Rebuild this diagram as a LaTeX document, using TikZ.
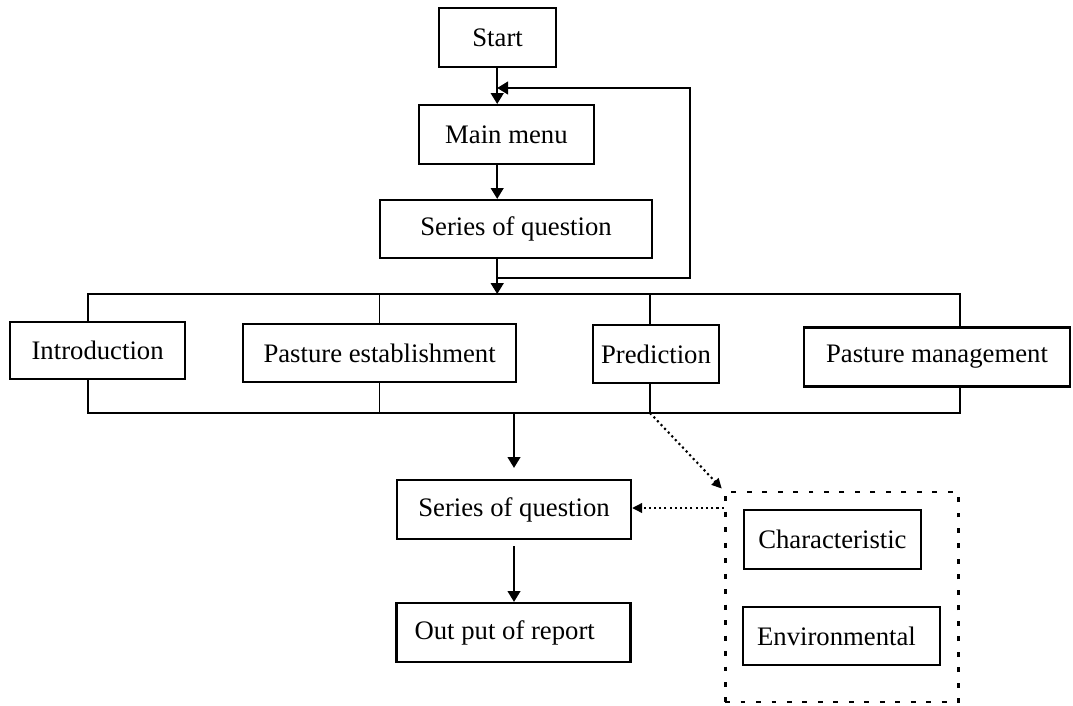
\documentclass[tikz,border=0pt]{standalone}
\usepackage{fontspec}
\setmainfont{Liberation Serif}
\usetikzlibrary{arrows.meta, positioning, calc}

\begin{document}
\begin{tikzpicture}[
                box/.style={draw, rectangle, line width=1.6pt, minimum height=1.45cm, text centered, font=\fontsize{19}{22}\selectfont},
                padbox/.style={box, align=flush left, inner xsep=#1},
                group/.style={draw, rectangle, dash pattern=on 3.5pt off 7.5pt, line width=2pt},
                arrow/.style={-{Triangle[length=0.27cm,width=0.32cm]}, line width=1.1pt},
                dotarrow/.style={-{Triangle[length=0.25cm,width=0.24cm]}, dash pattern=on 1.5pt off 2.2pt, line width=1.5pt},
                link/.style={line width=1.1pt}
            ]
            \useasboundingbox (0,0) rectangle (26.825,17.625);

            % Main flow
            \node[box, minimum width=2.925cm, minimum height=1.475cm] (start) at (12.44,16.69) {Start};
            \node[box, minimum width=4.375cm, minimum height=1.475cm] (menu) at (12.66,14.26) {Main menu};
            \node[box, minimum width=6.8cm] (ser1) at (12.9,11.9) {Series of question};

            % Modules
            \begin{scope}
                \node[box, minimum width=4.375cm, minimum height=1.425cm] (intro) at (2.44,8.86) {Introduction};
                \node[box, minimum width=6.825cm] (estab) at (9.49,8.8) {Pasture establishment};
                \node[box, minimum width=3.15cm] (pred) at (16.4,8.775) {Prediction};
                \node[box, minimum width=6.65cm, minimum height=1.475cm] (mgmt) at (23.425,8.7) {Pasture management};
            \end{scope}

            % Output
            \node[box, minimum width=5.85cm, minimum height=1.475cm] (ser2) at (12.85,4.8875) {Series of question};
            \node[padbox=0.45cm, text width=4.95cm, minimum height=1.475cm] (report) at (12.84,1.8125) {Out put of report};

            % Prediction factors
            \begin{scope}
                \node[group, minimum width=5.825cm, minimum height=5.25cm] (factors) at (21.04,2.7) {};
                \node[box, minimum width=4.425cm, minimum height=1.475cm] (charac) at (20.81,4.1375) {Characteristic};
                \node[padbox=0.35cm, text width=4.225cm] (enviro) at (21.04,1.725) {Environmental};
            \end{scope}

            % Bus points
            \coordinate (loopIn) at (12.43,10.675);
            \coordinate (loopTop) at (12.43,15.425);
            \coordinate (busIn) at (12.43,10.275);
            \coordinate (busTL) at (2.2,10.275);
            \coordinate (busTR) at (24,10.275);
            \coordinate (busTP) at (16.25,10.275);
            \coordinate (busBL) at (2.2,7.3);
            \coordinate (busBR) at (24,7.3);
            \coordinate (busBP) at (16.25,7.3);

            % Connections
            \draw[arrow] (loopTop |- start.south) -- (loopTop |- menu.north);
            \draw[arrow] (loopTop |- menu.south) -- (loopTop |- ser1.north);
            \draw[arrow] (loopTop |- ser1.south) -- (busIn);
            \draw[arrow] (loopIn) -- ++(4.82,0) |- (loopTop);

            \draw[link] (busTL |- intro.north) -- (busTL) -- (busTR) -- (busTR |- mgmt.north);
            \draw[link] (estab.north) -- (estab.north |- busTL);
            \draw[link] (busTP) -- (busTP |- pred.north);

            \draw[link] (busBL |- intro.south) -- (busBL) -- (busBR) -- (busBR |- mgmt.south);
            \draw[link] (estab.south) -- (estab.south |- busBL);
            \draw[link] (busBP |- pred.south) -- (busBP);

            \draw[arrow, shorten >=0.275cm] (ser2.north |- busBL) -- (ser2.north);
            \draw[arrow] ([yshift=-0.15cm]ser2.south) -- (ser2.south |- report.north);

            \draw[dotarrow, shorten >=2pt] (busBP) -- (factors.north west);
            \draw[dotarrow] (factors.west |- 0,4.925) -- (ser2.east |- 0,4.925);
        \end{tikzpicture}
\end{document}
